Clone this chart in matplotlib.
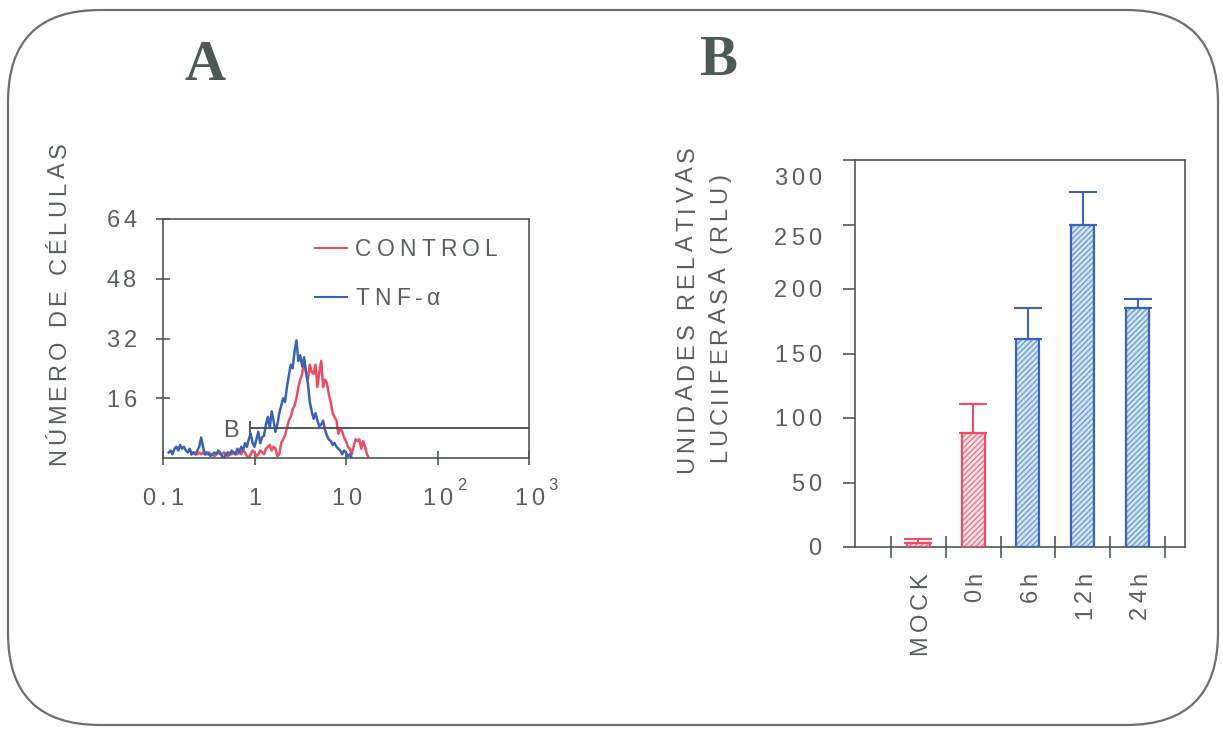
import numpy as np
import matplotlib
matplotlib.use("Agg")
from matplotlib import pyplot as plt
from matplotlib import font_manager, ft2font
from matplotlib.lines import Line2D
from matplotlib.patches import FancyBboxPatch
from matplotlib.transforms import offset_copy

plt.rcParams['font.family'] = ['Liberation Sans', 'DejaVu Sans']
plt.rcParams['hatch.linewidth'] = 1.0

# --- panel A: flow cytometry histograms (48 channels per decade, from 0.1) ---
CH_PER_DECADE = 48
tnf_start = 3
tnf_counts = [1.5, 2, 1, 2.5, 3, 2, 3.5, 2.5, 3, 2, 1.5, 2.5, 1, 1.5, 1, 2, 3, 5.5,
              3, 1, 1.5, 1, 0.5, 1, 1.5, 1, 2, 1.5, 0.5, 0, 1, 1.5, 1, 2, 1.5, 1,
              2.5, 1.5, 3, 2, 4, 3, 5, 6.5, 4, 3, 5, 7, 4, 5.5, 6, 9, 11, 8, 12.5,
              10, 7, 9, 12, 14, 16, 15, 19, 22, 25, 24, 28.5, 31.5, 26, 27.5, 24.5,
              27, 23, 20, 15, 12.5, 10.5, 12, 10, 8.5, 9, 10, 7.5, 6, 5, 4.5, 3.5,
              4, 3, 2.5, 2, 1, 2, 1.5, 0.5, 1, 0]
control_start = 15
control_counts = [1, 1.5, 1, 1, 1.5, 1, 1.5, 1, 1, 1.5, 1, 1, 0.5, 1, 1.5, 1, 1, 1.5,
                  1, 0.5, 1, 1, 1.5, 1, 1, 1.5, 1, 2, 1.5, 0.5, 0, 1, 2, 1.5, 0.5, 1,
                  2, 1.5, 1, 2.5, 3, 3.5, 2, 3, 2.5, 0.5, 1, 4, 5, 6, 8, 10, 11, 13,
                  14, 16, 19, 21, 22.5, 26, 23, 21, 25, 23, 22.5, 25, 19, 23, 26, 19,
                  21, 20, 17, 15, 12, 11, 10, 6.5, 8, 7, 5.5, 4.5, 3, 2.5, 1, 3, 5,
                  4.5, 5, 2.5, 4.5, 3, 1, 0]
gate_lo, gate_hi, gate_y = 0.9, 1000, 8
hist_xticks = [0.1, 1, 10, 100, 1000]
hist_xlabels = [('0.1', ''), ('1', ''), ('10', ''), ('10', '2'), ('10', '3')]
hist_yticks = [16, 32, 48, 64]
series_names = ['CONTROL', 'TNF-α']

# --- panel B: luciferase activity ---
conditions = ['MOCK', '0h', '6h', '12h', '24h']
rlu = [3, 88, 161, 250, 185]
rlu_err = [3, 23, 24, 25, 7]
rlu_yticks = [0, 50, 100, 150, 200, 250, 300]

RED = '#ee4c62'
BLUE = '#3b62b5'
AXC = '#4f5757'
TXT = '#595e5e'
FONT = font_manager.findfont(font_manager.FontProperties(family='Liberation Sans'))

fig = plt.figure(figsize=(12.23, 7.32), dpi=100)


def advances(s, size):
    font = ft2font.FT2Font(FONT)
    font.set_size(size, 72)
    return [font.load_char(ord(c)).linearHoriAdvance / 65536 for c in s]


def tracked_text(x, y, s, transform, size=17, track=0.17, rotation=0,
                 align='center', valign='center', offset=(0, 0), color=TXT):
    # letter-spaced text, placed one glyph at a time (offsets in points)
    adv = advances(s, size)
    gap = track * size
    total = sum(adv) + gap * (len(s) - 1)
    pos = {'left': 0.0, 'center': -total / 2, 'right': -total}[align]
    cap = 0.716 * size
    base = {'center': -cap / 2, 'top': -cap, 'baseline': 0.0}[valign]
    for c, a in zip(s, adv):
        if rotation == 90:
            dx, dy = -base, pos
        else:
            dx, dy = pos, base
        tr = offset_copy(transform, fig=fig, x=dx + offset[0], y=dy + offset[1],
                         units='points')
        fig.text(x, y, c, transform=tr, rotation=rotation, rotation_mode='anchor',
                 ha='left', va='baseline', fontsize=size, family='Liberation Sans',
                 color=color)
        pos += a + gap
    return total


def px(x, y):
    return x / 1223, 1 - y / 732


# rounded frame around both panels
frame = FancyBboxPatch((0.08, 0.07), 12.10, 7.15,
                       boxstyle="round,pad=0,rounding_size=0.92",
                       transform=fig.dpi_scale_trans, fill=False,
                       edgecolor='#6a6f6f', linewidth=1.6)
fig.patches.append(frame)

fig.text(*px(205, 66), 'A', family='Liberation Serif', weight='bold',
         fontsize=41, color='#4b5a55', ha='center', va='center')
fig.text(*px(718, 61), 'B', family='Liberation Serif', weight='bold',
         fontsize=41, color='#4b5a55', ha='center', va='center')

# ---------- A ----------
axA = fig.add_axes([163 / 1223, 1 - 458 / 732, 366 / 1223, 239 / 732])
axA.plot(10 ** ((control_start + np.arange(len(control_counts))) / CH_PER_DECADE - 1),
         control_counts, color=RED, lw=1.8)
axA.plot(10 ** ((tnf_start + np.arange(len(tnf_counts))) / CH_PER_DECADE - 1),
         tnf_counts, color=BLUE, lw=1.8)
axA.hlines(gate_y, gate_lo, gate_hi, color=AXC, lw=1.4)
axA.vlines(gate_lo, gate_y - 2, gate_y + 2, color=AXC, lw=1.4)
tracked_text(gate_lo, gate_y, 'B', axA.transData, align='right', offset=(-8, 0))

axA.set_xscale('log')
axA.set_xlim(0.1, 1000)
axA.set_ylim(0, 64)
axA.set_xticks(hist_xticks)
axA.set_xticklabels([])
axA.xaxis.set_minor_locator(matplotlib.ticker.NullLocator())
axA.set_yticks(hist_yticks)
axA.set_yticklabels([])
axA.tick_params(axis='both', direction='inout', length=10, width=1.2, color=AXC)
for s in axA.spines.values():
    s.set_color(AXC)
    s.set_linewidth(1.2)

for v, (base_txt, sup) in zip(hist_xticks, hist_xlabels):
    w = tracked_text(v, 0, base_txt, axA.get_xaxis_transform(), offset=(0, -28))
    if sup:
        tracked_text(v, 0, sup, axA.get_xaxis_transform(), size=12, align='left',
                     offset=(w / 2 + 3, -19))
for v in hist_yticks:
    tracked_text(0, v, str(v), axA.get_yaxis_transform(), align='right',
                 offset=(-19, 0))

# legend keys
for i, (name, col) in enumerate(zip(series_names, [RED, BLUE])):
    ky = 0.879 - i * 0.205
    axA.add_line(Line2D([0.415, 0.503], [ky, ky], color=col, lw=1.5,
                        transform=axA.transAxes))
    tracked_text(0.5246, ky, name, axA.transAxes, size=16.5, track=0.22,
                 align='left')

tracked_text(*px(57, 304), 'NÚMERO DE CÉLULAS', fig.transFigure, rotation=90)

# ---------- B ----------
axB = fig.add_axes([855 / 1223, 1 - 547 / 732, 330 / 1223, 387 / 732])
xpos = np.arange(len(conditions))
colors = [RED, RED, BLUE, BLUE, BLUE]
faces = ['#fde8ec', '#fde8ec', '#d3e6f6', '#d3e6f6', '#d3e6f6']
hatch_cols = ['#f27287', '#f27287', '#6f9bd6', '#6f9bd6', '#6f9bd6']
axB.bar(xpos, rlu, width=0.42, color=faces, edgecolor=hatch_cols,
        hatch='//////', linewidth=0, zorder=2)
axB.bar(xpos, rlu, width=0.42, fill=False, edgecolor=colors, linewidth=1.6,
        zorder=3)
for x, v, e, c in zip(xpos, rlu, rlu_err, colors):
    axB.errorbar(x, v, yerr=[[0], [e]], color=c, lw=1.5, capsize=10,
                 capthick=1.5, zorder=4)

axB.set_xlim(-1.15, 4.86)
axB.set_ylim(0, 300)
axB.set_yticks(rlu_yticks)
axB.set_yticklabels([])
axB.set_xticks(np.arange(-0.5, len(conditions)))
axB.set_xticklabels([])
axB.tick_params(axis='x', direction='inout', length=16, width=1.2, color=AXC)
axB.tick_params(axis='y', direction='out', length=9, width=1.2, color=AXC)
for s in axB.spines.values():
    s.set_color(AXC)
    s.set_linewidth(1.2)

for v in rlu_yticks:
    drop = -12 if v == 300 else (-9 if v == 250 else 0)
    tracked_text(0, v, str(v), axB.get_yaxis_transform(), align='right',
                 offset=(-24, drop))
for x, name in zip(xpos, conditions):
    tracked_text(x, 0, name, axB.get_xaxis_transform(), rotation=90,
                 align='right', offset=(0, -18))

tracked_text(*px(685, 310), 'UNIDADES RELATIVAS', fig.transFigure, rotation=90)
tracked_text(*px(718, 318), 'LUCIIFERASA (RLU)', fig.transFigure, rotation=90)

fig.savefig('out.png', dpi=100, facecolor='white')
